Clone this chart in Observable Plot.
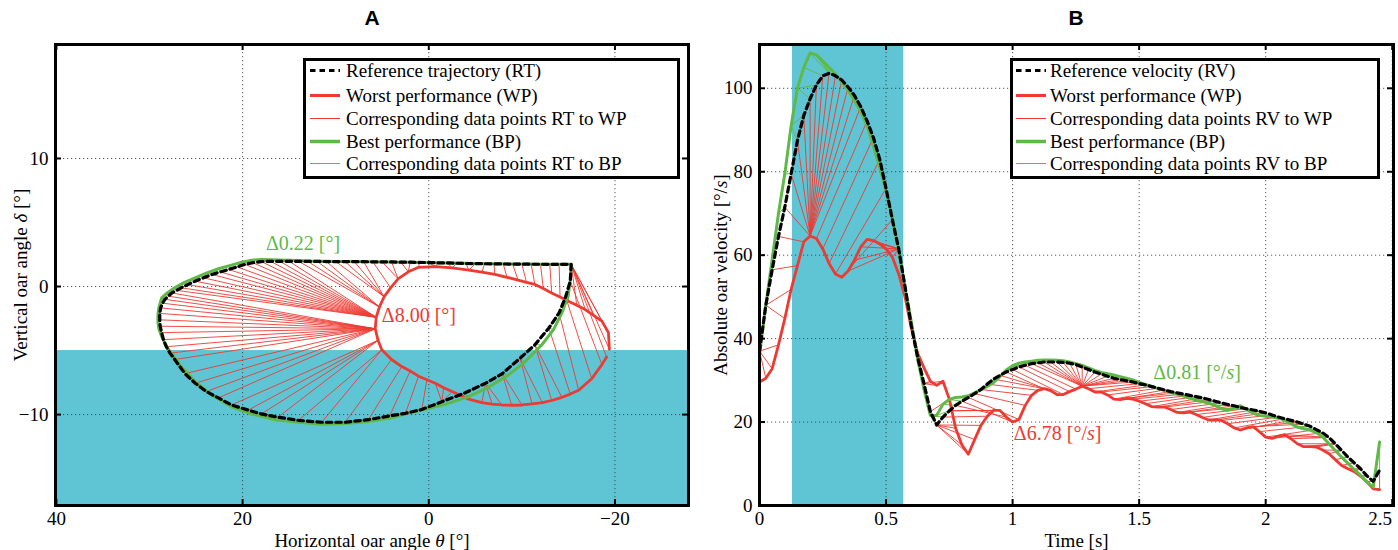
<!DOCTYPE html>
<html>
<head>
<meta charset="utf-8">
<script src="https://cdn.jsdelivr.net/npm/d3@7"></script>
<script src="https://cdn.jsdelivr.net/npm/@observablehq/plot@0.6"></script>
<style>
  body { margin: 0; background: #fff; }
  #wrap { position: relative; width: 1398px; height: 550px; overflow: hidden; background: #fff; }
  #wrap svg.panel { position: absolute; top: 0; }
  .title { position: absolute; top: 6px; font: bold 21px "Liberation Sans Narrow", "Liberation Sans", sans-serif; transform: translateX(-50%); color: #000; }
  .legend { position: absolute; border: 3px solid #000; background: #fff; box-sizing: border-box; font: 19px "Liberation Serif", serif; color: #000; }
  .row { position: absolute; left: 0; right: 0; height: 23px; line-height: 23px; white-space: nowrap; }
  .row svg { position: absolute; top: 8px; }
  .row span { position: absolute; top: 0; }
</style>
</head>
<body>
<div id="wrap"></div>
<script>
// ---------------- Panel A data (horizontal angle theta, vertical angle delta) ----------------
const rtTheta = [-15.3, -15.2, -14.7, -14.0, -12.9, -11.4, -9.8, -7.9, -6.1, -3.9,
  -1.4, 0.75, 2.5, 4.2, 6.5, 9.0, 11.5, 14.0, 16.2, 18.0,
  19.4, 21.2, 22.6, 23.9, 25.1, 26.2, 27.3, 27.8, 28.2, 28.5,
  28.7, 28.85, 28.9, 28.9, 28.8, 28.6, 28.35, 28.0, 27.6, 27.1,
  26.6, 25.9, 25.1, 24.2, 23.3, 22.4, 21.5, 20.6, 19.75, 18.9,
  18.0, 17, 16, 15, 14, 13, 12, 11, 10, 9,
  8, 7, 6, 5, 4, 3, 2, 1, 0, -1,
  -2, -3, -4, -5, -6, -7, -8, -9, -10, -11,
  -12, -13, -14, -15.3];
const rtDelta = [1.73, 0.42, -0.8, -2.06, -3.24, -4.55, -5.6, -6.8, -7.55, -8.3,
  -9.0, -9.6, -9.9, -10.1, -10.4, -10.6, -10.6, -10.45, -10.2, -9.95,
  -9.65, -9.25, -8.7, -8.2, -7.55, -6.8, -5.7, -5.2, -4.7, -4.15,
  -3.6, -3.1, -2.6, -2.1, -1.67, -1.3, -1.0, -0.75, -0.5, -0.3,
  -0.1, 0.15, 0.42, 0.68, 0.94, 1.14, 1.33, 1.53, 1.73, 1.86,
  1.95, 1.97, 1.97, 1.97, 1.97, 1.96, 1.96, 1.95, 1.95, 1.95,
  1.94, 1.94, 1.93, 1.92, 1.92, 1.9, 1.9, 1.88, 1.87, 1.85,
  1.84, 1.82, 1.8, 1.79, 1.78, 1.77, 1.76, 1.75, 1.75, 1.74,
  1.74, 1.73, 1.73, 1.73];

const wpTheta = [-19.1, -18.6, -17.5, -16.1, -15.2, -14.3, -13.2, -12.2, -11.1, -10.0,
  -8.9, -7.85, -6.8, -5.7, -4.3, -3.4, -2.5, -1.6, -0.7, 0.2,
  1.1, 2.0, 2.9, 4.0, 5.05, 5.45, 5.75, 5.65, 5.3, 4.8,
  4.1, 3.3, 2.2, 1.1, -0.7, -2.5, -4.3, -5.7, -7.1, -8.4,
  -9.6, -10.5, -11.4, -12.3, -13.2, -14.1, -15.0, -15.9, -16.8, -17.7,
  -18.6, -19.3, -19.4];
const wpDelta = [-5.5, -6.1, -7.2, -8.1, -8.4, -8.65, -8.9, -9.07, -9.17, -9.25,
  -9.27, -9.25, -9.18, -9.07, -8.8, -8.5, -8.2, -7.9, -7.55, -7.28,
  -7.0, -6.6, -6.25, -5.7, -4.94, -4.2, -3.3, -2.4, -1.6, -0.8,
  -0.1, 0.6, 1.15, 1.5, 1.55, 1.45, 1.28, 1.12, 0.94, 0.72,
  0.5, 0.33, 0.16, -0.15, -0.5, -0.82, -1.15, -1.47, -1.8, -2.25,
  -2.7, -3.6, -4.9];

const bpTheta = [-15.3, -15.2, -14.95, -14.3, -13.4, -12.15, -10.36, -8.57, -6.4, -4.27,
  -1.75, 0.75, 2.3, 4.0, 6.5, 9.0, 11.5, 14.0, 16.5, 19.0,
  21.2, 23.3, 25.1, 26.6, 27.8, 28.3, 28.7, 29.0, 29.1, 29.1,
  29.0, 28.7, 28.1, 27.3, 26.3, 25.1, 23.9, 22.6, 21.3, 20.1,
  19.0, 18.0, 17, 16, 15, 14, 13, 12, 11, 10,
  9, 8, 7, 6, 5, 4, 3, 2, 1, 0,
  -1, -2, -3, -4, -5, -6, -7, -8, -9, -10,
  -11, -12, -13, -14, -15.3];
const bpDelta = [1.73, 0.42, -0.76, -2.06, -3.37, -4.55, -5.86, -6.9, -7.87, -8.6,
  -9.2, -9.65, -9.9, -10.25, -10.55, -10.7, -10.75, -10.6, -10.4, -9.96,
  -9.39, -8.47, -7.43, -6.25, -5.07, -4.5, -3.9, -3.3, -2.72, -2.2,
  -1.67, -0.89, -0.5, -0.1, 0.3, 0.68, 1.05, 1.39, 1.65, 1.9,
  2.05, 2.12, 2.1, 2.07, 2.05, 2.03, 2.0, 1.98, 1.97, 1.96,
  1.95, 1.95, 1.94, 1.93, 1.92, 1.91, 1.9, 1.89, 1.88, 1.87,
  1.86, 1.84, 1.83, 1.81, 1.8, 1.79, 1.78, 1.77, 1.76, 1.75,
  1.75, 1.74, 1.74, 1.73, 1.73];

const xTicksA = [40, 20, 0, -20];
const yTicksA = [10, 0, -10];
const waterBandA = [-17.1, -5];            // delta range of the shaded (in-water) band
const annoAText = ["\u03940.22 [\u00b0]", "\u03948.00 [\u00b0]"];
const annoAX = [17.5, 5.05];
const annoAY = [3.35, -2.27];
const annoAColor = ["green", "red"];

// ---------------- Panel B data (time, absolute oar velocity) ----------------
const time = [0, 0.025, 0.05, 0.075, 0.1, 0.125, 0.15, 0.175, 0.2, 0.225,
  0.25, 0.275, 0.3, 0.325, 0.35, 0.375, 0.4, 0.425, 0.45, 0.475,
  0.5, 0.525, 0.55, 0.575, 0.6, 0.625, 0.65, 0.675, 0.7, 0.725,
  0.75, 0.775, 0.8, 0.825, 0.85, 0.875, 0.9, 0.925, 0.95, 0.975,
  1, 1.025, 1.05, 1.075, 1.1, 1.125, 1.15, 1.175, 1.2, 1.225,
  1.25, 1.275, 1.3, 1.325, 1.35, 1.375, 1.4, 1.425, 1.45, 1.475,
  1.5, 1.525, 1.55, 1.575, 1.6, 1.625, 1.65, 1.675, 1.7, 1.725,
  1.75, 1.775, 1.8, 1.825, 1.85, 1.875, 1.9, 1.925, 1.95, 1.975,
  2, 2.025, 2.05, 2.075, 2.1, 2.125, 2.15, 2.175, 2.2, 2.225,
  2.25, 2.275, 2.3, 2.325, 2.35, 2.375, 2.4, 2.425, 2.45];
const rvVel = [37, 48, 56.5, 64.5, 71.5, 79.5, 87.5, 93.5, 97.5, 100.8,
  103, 103.6, 103, 102, 100.3, 98.3, 95.6, 92.2, 88.2, 83,
  76, 68.5, 61.5, 52.5, 43, 35.5, 29.2, 22.5, 19.3, 21.2,
  22.7, 24, 25, 25.9, 26.8, 27.8, 29.1, 30.3, 31.2, 32,
  32.6, 33.2, 33.6, 34, 34.2, 34.4, 34.4, 34.4, 34.3, 34.1,
  33.8, 33.2, 32.6, 32, 31.5, 31, 30.5, 30.2, 29.9, 29.6,
  29.2, 28.9, 28.5, 28.1, 27.7, 27.3, 27, 26.7, 26.4, 26.1,
  25.8, 25.4, 25, 24.6, 24.2, 23.9, 23.5, 23.2, 22.9, 22.6,
  22.2, 21.7, 21.2, 20.8, 20.4, 20, 19.5, 19, 18.2, 17.4,
  16.3, 14.8, 13.2, 11.6, 10.2, 8.8, 7.1, 5.8, 8.5];
const wpVel = [29.6, 30.5, 32.8, 38.5, 44.8, 51.8, 57.5, 63.2, 64.6, 64,
  61.5, 58, 55.5, 54.7, 56.2, 58.8, 62, 63.8, 63.5, 62.7,
  61.5, 59.5, 55.5, 50, 42.5, 36.5, 33, 29.8, 28.8, 29.8,
  25.5, 18.5, 14.5, 12.3, 15.8, 19.2, 21.4, 22.8, 22.8, 21.2,
  20, 20.6, 24, 26.4, 27.6, 28, 27.6, 26.6, 26.6, 27.3,
  27.9, 28.6, 28, 27.2, 27.2, 26.5, 25.5, 25.4, 25.7, 25.5,
  25, 24.4, 23.7, 23.6, 23.6, 23, 22.3, 22.2, 22.4, 21.8,
  21.1, 20.5, 20.5, 20.4, 19.6, 18.6, 18.1, 18.6, 18.9, 17.7,
  16.4, 16.1, 16.6, 17, 16, 14.8, 14.1, 14.1, 14, 13.3,
  12.4, 11, 9.6, 8.8, 8.1, 7, 5.7, 4, 3.8];
const bpVel = [36, 48, 59, 70, 79.5, 91, 100, 105, 108.5, 108,
  106.5, 105, 103.4, 101.5, 99.5, 97, 94.5, 91, 86.2, 81,
  75.4, 69, 61, 52, 44, 35, 27.8, 21.6, 21.6, 24.3,
  25.4, 25.9, 26, 26.3, 27, 27.8, 28.5, 29.5, 30.9, 32.5,
  33.5, 34.1, 34.4, 34.6, 34.8, 34.9, 34.9, 34.8, 34.7, 34.4,
  34, 33.6, 33, 32.4, 31.9, 31.6, 31.3, 30.9, 30.5, 30.1,
  29.5, 29, 28.5, 28, 27.6, 27.1, 26.7, 26.2, 25.7, 25.3,
  24.9, 24.5, 24, 23.2, 22.8, 23.4, 23.9, 23, 22.1, 21.6,
  21.4, 21.2, 21, 20.4, 19.6, 18.8, 18.4, 18.1, 17.5, 16.4,
  14.8, 13.2, 11.6, 10.1, 8.6, 7.2, 5.6, 4.4, 15.2];

const xTicksB = [0, 0.5, 1, 1.5, 2, 2.5];
const yTicksB = [0, 20, 40, 60, 80, 100];
const driveBandB = [0.13, 0.57];            // time range of the shaded drive phase
const annoBText = ["\u03940.81 [\u00b0/s]", "\u03946.78 [\u00b0/s]"];
const annoBX = [1.556, 1.005];
const annoBY = [31.9, 17.2];
const annoBColor = ["green", "red"];

const legendAText = ["Reference trajectory (RT)", "Worst performance (WP)", "Corresponding data points RT to WP", "Best performance (BP)", "Corresponding data points RT to BP"];
const legendBText = ["Reference velocity (RV)", "Worst performance (WP)", "Corresponding data points RV to WP", "Best performance (BP)", "Corresponding data points RV to BP"];

// ---------------- styling ----------------
const COLORS = {red: "#ee3a32", green: "#5fb947", cyan: "#5fc5d5", gridc: "#3a3a3a"};
const fmt = d => (d < 0 ? "\u2212" + Math.abs(d) : String(d));

// dynamic time warping (optional Sakoe-Chiba window, in samples)
function dtw(a, b, dist, win = Infinity) {
  const n = a.length, m = b.length, D = [];
  const r = (m - 1) / Math.max(1, n - 1);
  for (let i = 0; i < n; i++) {
    D.push(new Float64Array(m).fill(Infinity));
    for (let j = 0; j < m; j++) {
      if (Math.abs(j - i * r) > win) continue;
      const c = dist(a[i], b[j]);
      let best;
      if (i === 0 && j === 0) best = 0;
      else if (i === 0) best = D[0][j - 1];
      else if (j === 0) best = D[i - 1][0];
      else best = Math.min(D[i - 1][j], D[i][j - 1], D[i - 1][j - 1]);
      D[i][j] = c + best;
    }
  }
  let i = n - 1, j = m - 1;
  const path = [[i, j]];
  while (i > 0 || j > 0) {
    if (i === 0) j--;
    else if (j === 0) i--;
    else {
      const d = D[i - 1][j - 1], u = D[i - 1][j], l = D[i][j - 1];
      if (d <= u && d <= l) { i--; j--; }
      else if (u <= l) i--;
      else j--;
    }
    path.push([i, j]);
  }
  return path;
}
const euclid = (p, q) => Math.hypot(p.x - q.x, p.y - q.y);
const absdiff = (p, q) => Math.abs(p.y - q.y);
const links = (a, b, pairs) => pairs.map(([i, j]) => ({x1: a[i].x, y1: a[i].y, x2: b[j].x, y2: b[j].y}));

function italicize(svg) {
  svg.querySelectorAll("text").forEach(t => {
    const s = t.textContent;
    if (!/[δθ]|\/s\]/.test(s) || t.querySelector("tspan")) return;
    const parts = s.split(/([δθ]|(?<=\/)s)/);
    t.textContent = "";
    parts.forEach(p => {
      if (!p) return;
      const ts = document.createElementNS("http://www.w3.org/2000/svg", "tspan");
      ts.textContent = p;
      if (p === "δ" || p === "θ" || p === "s") ts.setAttribute("font-style", "italic");
      t.appendChild(ts);
    });
  });
}

function grids(xTicks, yTicks) {
  return [
    Plot.gridX(xTicks, {stroke: COLORS.gridc, strokeOpacity: 0.85, strokeDasharray: "1.2,2.8", strokeWidth: 1}),
    Plot.gridY(yTicks, {stroke: COLORS.gridc, strokeOpacity: 0.85, strokeDasharray: "1.2,2.8", strokeWidth: 1})
  ];
}
function frameTicks(xTicks, yTicks, plotW, plotH) {
  const L = 6;
  return [
    Plot.tickX(xTicks, {x: d => d, insetTop: plotH - L, stroke: "#000", strokeWidth: 2}),
    Plot.tickX(xTicks, {x: d => d, insetBottom: plotH - L, stroke: "#000", strokeWidth: 2}),
    Plot.tickY(yTicks, {y: d => d, insetRight: plotW - L, stroke: "#000", strokeWidth: 2}),
    Plot.tickY(yTicks, {y: d => d, insetLeft: plotW - L, stroke: "#000", strokeWidth: 2}),
    Plot.frame({stroke: "#000", strokeWidth: 3})
  ];
}

const W = 699, H = 550, MT = 44, MB = 45;
const FS = 19;
const baseStyle = {fontFamily: '"Liberation Serif", "Times New Roman", serif', fontSize: FS + "px", color: "#000", background: "transparent", overflow: "visible"};

// ---------------- Panel A ----------------
const rtPts = rtTheta.map((x, i) => ({x, y: rtDelta[i]}));
const wpPts = wpTheta.map((x, i) => ({x, y: wpDelta[i]}));
const bpPts = bpTheta.map((x, i) => ({x, y: bpDelta[i]}));
const linksAW = links(rtPts, wpPts, dtw(rtPts, wpPts, euclid));
const linksAB = links(rtPts, bpPts, dtw(rtPts, bpPts, euclid));
const xDomA = [40.1, -27.9], yDomA = [-17.1, 18.9];
const mlA = 55, mrA = 11;
const pwA = W - mlA - mrA, phA = H - MT - MB;

const plotA = Plot.plot({
  width: W, height: H, marginLeft: mlA, marginRight: mrA, marginTop: MT, marginBottom: MB,
  style: baseStyle,
  x: {domain: xDomA, label: null},
  y: {domain: yDomA, label: null},
  marks: [
    Plot.rect([waterBandA], {x1: xDomA[0], x2: xDomA[1], y1: d => d[0], y2: d => d[1], fill: COLORS.cyan}),
    ...grids(xTicksA, yTicksA),
    Plot.link(linksAW, {x1: "x1", y1: "y1", x2: "x2", y2: "y2", stroke: COLORS.red, strokeWidth: 0.9}),
    Plot.link(linksAB, {x1: "x1", y1: "y1", x2: "x2", y2: "y2", stroke: COLORS.green, strokeWidth: 0.9}),
    Plot.line(wpPts, {x: "x", y: "y", stroke: COLORS.red, strokeWidth: 2.8, strokeLinejoin: "round"}),
    Plot.line(bpPts, {x: "x", y: "y", stroke: COLORS.green, strokeWidth: 3, strokeLinejoin: "round"}),
    Plot.line(rtPts, {x: "x", y: "y", stroke: "#000", strokeWidth: 3.2, strokeDasharray: "5.5,4"}),
    Plot.text(annoAText.map((s, i) => i), {x: i => annoAX[i], y: i => annoAY[i], text: i => annoAText[i],
      fill: i => COLORS[annoAColor[i]], textAnchor: "start", fontSize: 20}),
    ...frameTicks(xTicksA, yTicksA, pwA, phA),
    Plot.axisX(xTicksA, {anchor: "bottom", tickSize: 0, tickPadding: 6, tickFormat: fmt, label: null, fontSize: FS}),
    Plot.axisY(yTicksA, {anchor: "left", tickSize: 0, tickPadding: 7, tickFormat: fmt, label: null, fontSize: FS}),
    Plot.text(["Horizontal oar angle θ [°]"], {frameAnchor: "bottom", dy: 35.5, lineAnchor: "middle", textAnchor: "middle", fontSize: FS}),
    Plot.text(["Vertical oar angle δ [°]"], {frameAnchor: "left", dx: -35, rotate: -90, lineAnchor: "middle", textAnchor: "middle", fontSize: FS})
  ]
});

// ---------------- Panel B ----------------
const rvPts = time.map((t, i) => ({x: t, y: rvVel[i]}));
const wvPts = time.map((t, i) => ({x: t, y: wpVel[i]}));
const bvPts = time.map((t, i) => ({x: t, y: bpVel[i]}));
const linksBW = links(rvPts, wvPts, dtw(rvPts, wvPts, absdiff, 8));
const linksBB = links(rvPts, bvPts, dtw(rvPts, bvPts, absdiff, 8));
const xDomB = [0, 2.505], yDomB = [0, 110.5];
const mlB = 60, mrB = 5;
const pwB = W - mlB - mrB, phB = H - MT - MB;

const plotB = Plot.plot({
  width: W, height: H, marginLeft: mlB, marginRight: mrB, marginTop: MT, marginBottom: MB,
  style: baseStyle,
  x: {domain: xDomB, label: null},
  y: {domain: yDomB, label: null},
  marks: [
    Plot.rect([driveBandB], {x1: d => d[0], x2: d => d[1], y1: yDomB[0], y2: yDomB[1], fill: COLORS.cyan}),
    ...grids(xTicksB, yTicksB),
    Plot.link(linksBW, {x1: "x1", y1: "y1", x2: "x2", y2: "y2", stroke: COLORS.red, strokeWidth: 0.9}),
    Plot.link(linksBB, {x1: "x1", y1: "y1", x2: "x2", y2: "y2", stroke: COLORS.green, strokeWidth: 0.9}),
    Plot.line(wvPts, {x: "x", y: "y", stroke: COLORS.red, strokeWidth: 2.8, strokeLinejoin: "round"}),
    Plot.line(bvPts, {x: "x", y: "y", stroke: COLORS.green, strokeWidth: 3, strokeLinejoin: "round"}),
    Plot.line(rvPts, {x: "x", y: "y", stroke: "#000", strokeWidth: 3.2, strokeDasharray: "5.5,4"}),
    Plot.text(annoBText.map((s, i) => i), {x: i => annoBX[i], y: i => annoBY[i], text: i => annoBText[i],
      fill: i => COLORS[annoBColor[i]], textAnchor: "start", fontSize: 20}),
    ...frameTicks(xTicksB, yTicksB, pwB, phB),
    Plot.axisX(xTicksB.slice(0, -1), {anchor: "bottom", tickSize: 0, tickPadding: 6, tickFormat: fmt, label: null, fontSize: FS}),
    Plot.axisX(xTicksB.slice(-1), {anchor: "bottom", tickSize: 0, tickPadding: 6, tickFormat: fmt, label: null, dx: -12, fontSize: FS}),
    Plot.axisY(yTicksB, {anchor: "left", tickSize: 0, tickPadding: 7, tickFormat: fmt, label: null, fontSize: FS}),
    Plot.text(["Time [s]"], {frameAnchor: "bottom", dy: 35.5, lineAnchor: "middle", textAnchor: "middle", fontSize: FS}),
    Plot.text(["Absolute oar velocity [°/s]"], {frameAnchor: "left", dx: -39, rotate: -90, lineAnchor: "middle", textAnchor: "middle", fontSize: FS})
  ]
});

const wrap = document.getElementById("wrap");
[plotA, plotB].forEach((p, k) => {
  p.classList.add("panel");
  p.style.left = (k * W) + "px";
  italicize(p);
  wrap.appendChild(p);
});

// titles
[["A", 372], ["B", 1076]].forEach(([s, x]) => {
  const d = document.createElement("div");
  d.className = "title"; d.textContent = s; d.style.left = x + "px";
  wrap.appendChild(d);
});

// legends (boxed, top right of each panel)
const swatches = [
  {stroke: "#000", w: 3.2, dash: "5.5,4"},
  {stroke: COLORS.red, w: 3, dash: null},
  {stroke: COLORS.red, w: 1, dash: null},
  {stroke: COLORS.green, w: 3.5, dash: null},
  {stroke: COLORS.green, w: 1, dash: null}
];
function legend(texts, left, top, width, height, swLeft, txtLeft) {
  const box = document.createElement("div");
  box.className = "legend";
  Object.assign(box.style, {left: left + "px", top: top + "px", width: width + "px", height: height + "px"});
  const centers = [9, 34, 57, 80, 102];
  texts.forEach((t, i) => {
    const row = document.createElement("div");
    row.className = "row";
    row.style.top = (centers[i] - 11.5) + "px";
    const s = swatches[i];
    row.innerHTML = `<svg width="30" height="7" style="left:${swLeft}px"><line x1="0" x2="30" y1="3.5" y2="3.5" stroke="${s.stroke}" stroke-width="${s.w}" ${s.dash ? `stroke-dasharray="${s.dash}"` : ""}/></svg><span style="left:${txtLeft}px">${t}</span>`;
    box.appendChild(row);
  });
  wrap.appendChild(box);
}
legend(legendAText, 303, 58, 377, 121, 4, 40);
legend(legendBText, 1010, 58, 370, 121, 3, 37);
</script>
</body>
</html>
